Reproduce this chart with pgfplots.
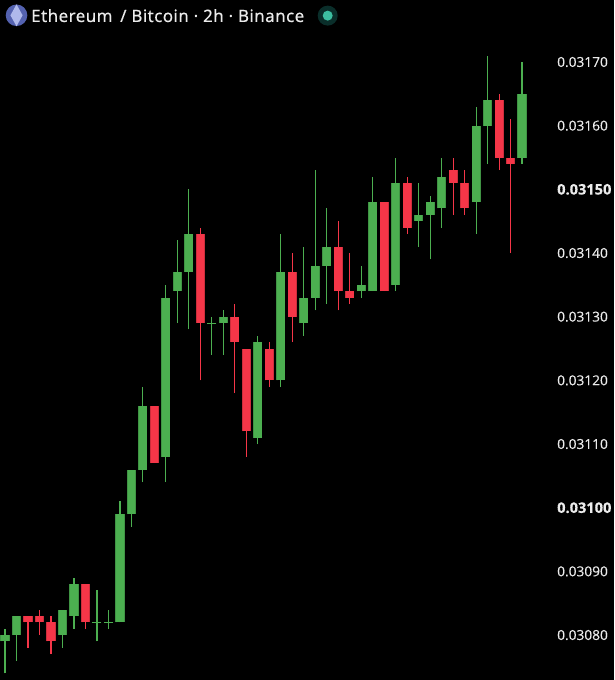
\documentclass[border=0pt]{standalone}
\usepackage{pgfplots}
\pgfplotsset{compat=1.18}
\usepackage{fontspec}
\setmainfont{Open Sans}
\newfontfamily\ticklab[FakeBold=0.2]{Open Sans}
\newfontfamily\titlefont[FakeBold=0.2,LetterSpace=2.5]{Noto Sans}
\definecolor{upc}{RGB}{76,175,80}
\definecolor{upe}{RGB}{64,148,68}
\definecolor{dnc}{RGB}{245,54,72}
\definecolor{dne}{RGB}{205,46,60}
\newcommand{\bt}[1]{\textbf{\fontsize{14.6}{15}\selectfont #1}}
% index, open, close, high, low
\newcommand{\up}[5]{%
  \addplot[upc, line width=1.2pt, forget plot] coordinates {(#1,#5)(#1,#4)};
  \addplot[upe, line width=9.2pt, forget plot] coordinates {(#1,#2)(#1,#3)};
  \addplot[upc, line width=7.6pt, forget plot] coordinates {(#1,#2)(#1,#3)};
}
\newcommand{\dn}[5]{%
  \addplot[dnc, line width=1.2pt, forget plot] coordinates {(#1,#5)(#1,#4)};
  \addplot[dne, line width=9.2pt, forget plot] coordinates {(#1,#3)(#1,#2)};
  \addplot[dnc, line width=7.6pt, forget plot] coordinates {(#1,#3)(#1,#2)};
}
\begin{document}
\begin{tikzpicture}
\begin{axis}[
  scale only axis, width=614pt, height=680pt,
  xmin=-0.435, xmax=53.0, ymin=0.0307294, ymax=0.0317974,
  axis background/.style={fill=black},
  axis line style={draw=none},
  xtick=\empty,
  ytick={0.0308,0.0309,0.0310,0.0311,0.0312,0.0313,0.0314,0.0315,0.0316,0.0317},
  yticklabels={0.03080,0.03090,\bt{0.03100},0.03110,0.03120,0.03130,0.03140,\bt{0.03150},0.03160,0.03170},
  ytick style={draw=none},
  yticklabel pos=right,
  scaled y ticks=false,
  y tick label style={anchor=west, inner xsep=0pt, xshift=-57pt, font=\ticklab\fontsize{13.7}{15}\selectfont, text=white!92!black},
  clip=false,
]
\up{0}{0.03079}{0.03080}{0.03081}{0.03074}
\up{1}{0.03080}{0.03083}{0.03083}{0.03076}
\dn{2}{0.03083}{0.03082}{0.03083}{0.03078}
\dn{3}{0.03083}{0.03082}{0.03084}{0.03080}
\dn{4}{0.03082}{0.03079}{0.03083}{0.03077}
\up{5}{0.03080}{0.03084}{0.03084}{0.03078}
\up{6}{0.03083}{0.03088}{0.03089}{0.03081}
\dn{7}{0.03088}{0.03082}{0.03088}{0.03081}
\up{8}{0.03082}{0.03082}{0.03087}{0.03079}
\up{9}{0.03082}{0.03082}{0.03084}{0.03081}
\up{10}{0.03082}{0.03099}{0.03101}{0.03082}
\up{11}{0.03099}{0.03106}{0.03106}{0.03097}
\up{12}{0.03106}{0.03116}{0.03119}{0.03104}
\dn{13}{0.03116}{0.03107}{0.03116}{0.03107}
\up{14}{0.03108}{0.03133}{0.03135}{0.03104}
\up{15}{0.03134}{0.03137}{0.03142}{0.03129}
\up{16}{0.03137}{0.03143}{0.03150}{0.03128}
\dn{17}{0.03143}{0.03129}{0.03144}{0.03120}
\up{18}{0.03129}{0.03129}{0.03130}{0.03124}
\up{19}{0.03129}{0.03130}{0.03131}{0.03124}
\dn{20}{0.03130}{0.03126}{0.03132}{0.03118}
\dn{21}{0.03125}{0.03112}{0.03125}{0.03108}
\up{22}{0.03111}{0.03126}{0.03127}{0.03110}
\dn{23}{0.03125}{0.03120}{0.03126}{0.03119}
\up{24}{0.03120}{0.03137}{0.03143}{0.03119}
\dn{25}{0.03137}{0.03130}{0.03140}{0.03126}
\up{26}{0.03129}{0.03133}{0.03141}{0.03127}
\up{27}{0.03133}{0.03138}{0.03153}{0.03131}
\up{28}{0.03138}{0.03141}{0.03147}{0.03132}
\dn{29}{0.03141}{0.03134}{0.03145}{0.03131}
\dn{30}{0.03134}{0.03133}{0.03140}{0.03132}
\up{31}{0.03134}{0.03135}{0.03138}{0.03133}
\up{32}{0.03134}{0.03148}{0.03152}{0.03134}
\dn{33}{0.03148}{0.03134}{0.03148}{0.03134}
\up{34}{0.03135}{0.03151}{0.03155}{0.03134}
\dn{35}{0.03151}{0.03144}{0.03152}{0.03143}
\up{36}{0.03145}{0.03146}{0.03151}{0.03141}
\up{37}{0.03146}{0.03148}{0.03149}{0.03139}
\up{38}{0.03147}{0.03152}{0.03155}{0.03144}
\dn{39}{0.03153}{0.03151}{0.03155}{0.03146}
\dn{40}{0.03151}{0.03147}{0.03153}{0.03146}
\up{41}{0.03148}{0.03160}{0.03163}{0.03143}
\up{42}{0.03160}{0.03164}{0.03171}{0.03154}
\dn{43}{0.03164}{0.03155}{0.03165}{0.03153}
\dn{44}{0.03155}{0.03154}{0.03161}{0.03140}
\up{45}{0.03155}{0.03165}{0.03170}{0.03154}
% doji bars
\addplot[only marks, mark=-, mark size=4.5pt, color=upc, mark options={line width=1.1pt}, forget plot]
  coordinates {(8,0.03082)(9,0.03082)(18,0.03129)};
% header
\fill[color={rgb,255:red,84;green,98;blue,176}] (rel axis cs:0.0269,0.9775) circle[radius=10.8pt];
\fill[color={rgb,255:red,175;green,185;blue,235}] (rel axis cs:0.0269,0.9936) -- (rel axis cs:0.0368,0.9775) -- (rel axis cs:0.0269,0.9614) -- (rel axis cs:0.0170,0.9775) -- cycle;
\node[anchor=base west, inner sep=0pt, text=white!92!black, font=\titlefont\fontsize{17}{20}\selectfont]
  at (rel axis cs:0.0505,0.9677) {Ethereum\, / Bitcoin · 2h · Binance};
\fill[color={rgb,255:red,10;green,46;blue,42}] (rel axis cs:0.5337,0.9770) circle[radius=10pt];
\fill[color={rgb,255:red,60;green,190;blue,160}] (rel axis cs:0.5337,0.9770) circle[radius=5pt];
\end{axis}
\end{tikzpicture}
\end{document}
